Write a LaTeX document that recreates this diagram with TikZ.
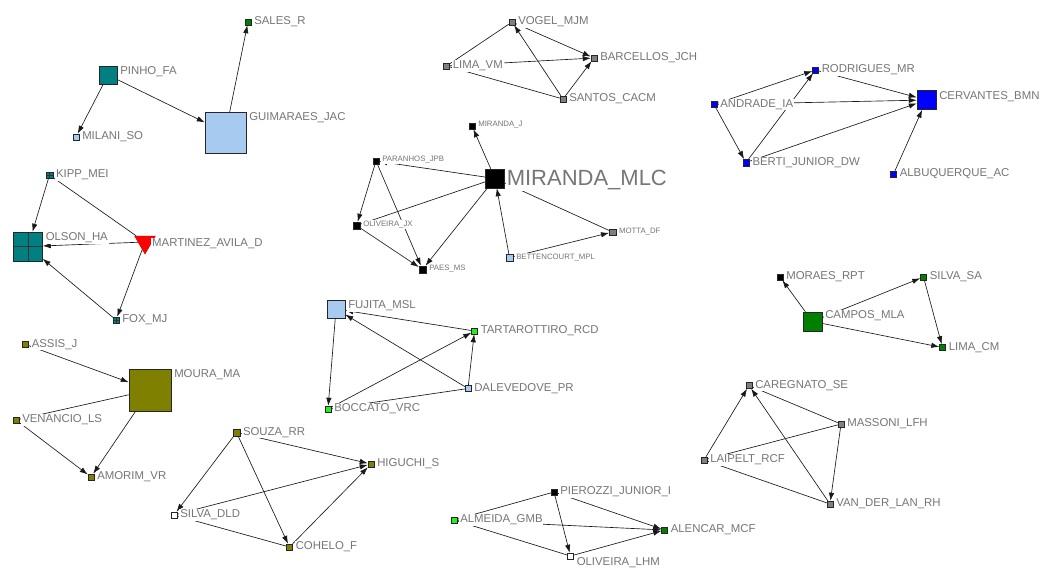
\documentclass[tikz,border=0pt]{standalone}
\usepackage{fontspec}
\setmainfont{Liberation Sans}
\usetikzlibrary{arrows.meta,shapes.geometric}
\definecolor{teal}{HTML}{008080}
\definecolor{lightblue}{HTML}{A6CAF0}
\definecolor{dkgreen}{HTML}{008000}
\definecolor{lime}{HTML}{22EE22}
\definecolor{olive}{HTML}{808000}
\definecolor{midgrey}{HTML}{808080}
\definecolor{pureblue}{HTML}{0000FF}
\definecolor{labgrey}{HTML}{767676}
\newcommand\lbsize{\fontsize{11.4}{13}\selectfont}
\newcommand\smsize{\fontsize{7.8}{9}\selectfont}
\newcommand\bgsize{\fontsize{22}{24}\selectfont}
\tikzset{
  v/.style={rectangle, draw=black!85, line width=0.5pt, inner sep=0pt, minimum size=#1},
  grid/.style={path picture={
      \draw[black!80, line width=0.5pt]
        (path picture bounding box.north) -- (path picture bounding box.south)
        (path picture bounding box.west) -- (path picture bounding box.east);}},
  lab/.style={font=\lbsize, text=labgrey, fill=white, inner sep=0.8pt, anchor=west},
  labtop/.style={lab, anchor=north west},
  slab/.style={lab, font=\smsize},
  e/.style={draw=black!90, line width=0.65pt},
  a/.style={e, -{Latex[length=8pt,width=5.4pt]}},
}
\begin{document}
\begin{tikzpicture}[x=1pt, y=-1pt]
\useasboundingbox (0,0) rectangle (1040,568);
\fill[white] (0,0) rectangle (1040,568);

% ---- vertices ----
% Pinho / Guimaraes group
\node[v=18pt, fill=teal] (pinho) at (108,75) {};
\node[v=6pt, fill=lightblue] (milani) at (76,137) {};
\node[v=41pt, fill=lightblue] (guim) at (225.5,132.5) {};
\node[v=6pt, fill=dkgreen] (sales) at (248,22) {};
% Olson group
\node[v=6.5pt, fill=teal, grid] (kipp) at (49.5,175) {};
\node[v=29pt, fill=teal, grid] (olson) at (28,246.5) {};
\node[regular polygon, regular polygon sides=3, shape border rotate=180,
      minimum size=24pt, inner sep=0pt, fill=red, draw=red!80!black, line width=0.4pt] (mart) at (145,242) {};
\node[v=6pt, fill=teal, grid] (fox) at (116,320) {};
% Vogel group
\node[v=6pt, fill=midgrey] (vogel) at (512,22) {};
\node[v=6pt, fill=midgrey] (limavm) at (446.5,66) {};
\node[v=6pt, fill=midgrey] (barc) at (594,58) {};
\node[v=6pt, fill=midgrey] (santos) at (563,99) {};
% Miranda group
\node[v=6pt, fill=black] (mj) at (472,126) {};
\node[v=6pt, fill=black] (paranhos) at (376,161) {};
\node[v=19pt, fill=black] (mlc) at (495,178.5) {};
\node[v=7pt, fill=black] (olivjx) at (356.5,225.5) {};
\node[v=7pt, fill=black] (paes) at (422.5,269.5) {};
\node[v=7pt, fill=lightblue] (bett) at (509.5,257.5) {};
\node[v=6.5pt, fill=midgrey] (motta) at (612.5,232) {};
% Cervantes group
\node[v=6pt, fill=pureblue] (rodr) at (815.5,70) {};
\node[v=6pt, fill=pureblue] (andr) at (714,104.5) {};
\node[v=19pt, fill=pureblue] (cerv) at (926.5,100) {};
\node[v=6.5pt, fill=pureblue] (berti) at (746,162.5) {};
\node[v=6pt, fill=pureblue] (albu) at (893.5,174) {};
% Fujita group
\node[v=18pt, fill=lightblue] (fujita) at (336,309) {};
\node[v=6pt, fill=lime] (tart) at (474.5,331) {};
\node[v=6pt, fill=lightblue] (dalev) at (468,388.5) {};
\node[v=6pt, fill=lime] (bocc) at (328,409) {};
% Campos group
\node[v=6pt, fill=black] (moraes) at (780,277) {};
\node[v=6pt, fill=dkgreen] (silvasa) at (923.5,277) {};
\node[v=19pt, fill=dkgreen] (campos) at (812.5,321.5) {};
\node[v=6pt, fill=dkgreen] (limacm) at (942.5,347.5) {};
% Moura group
\node[v=6pt, fill=olive] (assis) at (25.5,344.5) {};
\node[v=42pt, fill=olive] (moura) at (150,390) {};
\node[v=6pt, fill=olive] (venan) at (16,420) {};
\node[v=6pt, fill=olive] (amorim) at (91,477) {};
% Souza group
\node[v=6.5pt, fill=olive] (souza) at (236.5,432.5) {};
\node[v=6pt, fill=olive] (higuchi) at (371,464) {};
\node[v=6pt, fill=white] (silvadld) at (174,515) {};
\node[v=6pt, fill=olive] (cohelo) at (289.5,547) {};
% Pierozzi group
\node[v=6pt, fill=black] (pier) at (554,492) {};
\node[v=6pt, fill=lime] (almeida) at (454,520) {};
\node[v=6pt, fill=dkgreen] (alencar) at (664.5,530) {};
\node[v=6pt, fill=white] (olivlhm) at (570.5,556) {};
% Caregnato group
\node[v=6pt, fill=midgrey] (careg) at (749,385.5) {};
\node[v=6pt, fill=midgrey] (massoni) at (841,424) {};
\node[v=6pt, fill=midgrey] (laipelt) at (704,460) {};
\node[v=6pt, fill=midgrey] (vdl) at (830,504) {};

% ---- ties ----
\draw[a] (pinho) -- (guim);
\draw[a] (pinho) -- (milani);
\draw[a] (guim) -- (sales);

\draw[a] (kipp) -- (olson);
\draw[e] (kipp) -- (mart);
\draw[a] (mart) -- (olson);
\draw[a] (mart) -- (fox);
\draw[a] (fox) -- (olson);

\draw[e] (limavm) -- (vogel);
\draw[a] (vogel) -- (barc);
\draw[a] (limavm) -- (barc);
\draw[a] (santos) -- (vogel);
\draw[a] (santos) -- (barc);
\draw[e] (limavm) -- (santos);

\draw[a] (mlc) -- (mj);
\draw[a] (mlc) -- (paranhos);
\draw[e] (mlc) -- (olivjx);
\draw[a] (mlc) -- (paes);
\draw[a] (bett) -- (mlc);
\draw[e] (mlc) -- (motta);
\draw[a] (bett) -- (motta);
\draw[a] (paranhos) -- (olivjx);
\draw[a] (paranhos) -- (paes);
\draw[a] (olivjx) -- (paes);

\draw[a] (andr) -- (rodr);
\draw[a] (rodr) -- (cerv);
\draw[a] (andr) -- (cerv);
\draw[a] (andr) -- (berti);
\draw[a] (berti) -- (rodr);
\draw[a] (berti) -- (cerv);
\draw[a] (albu) -- (cerv);

\draw[a] (tart) -- (fujita);
\draw[a] (dalev) -- (fujita);
\draw[a] (fujita) -- (bocc);
\draw[a] (bocc) -- (tart);
\draw[a] (dalev) -- (tart);
\draw[e] (dalev) -- (bocc);

\draw[a] (campos) -- (moraes);
\draw[a] (campos) -- (silvasa);
\draw[a] (campos) -- (limacm);
\draw[a] (silvasa) -- (limacm);

\draw[a] (assis) -- (moura);
\draw[e] (moura) -- (venan);
\draw[a] (venan) -- (amorim);
\draw[a] (moura) -- (amorim);

\draw[a] (souza) -- (higuchi);
\draw[a] (souza) -- (silvadld);
\draw[a] (souza) -- (cohelo);
\draw[a] (silvadld) -- (higuchi);
\draw[e] (silvadld) -- (cohelo);
\draw[a] (cohelo) -- (higuchi);

\draw[e] (almeida) -- (pier);
\draw[a] (pier) -- (olivlhm);
\draw[a] (pier) -- (alencar);
\draw[a] (almeida) -- (alencar);
\draw[e] (almeida) -- (olivlhm);
\draw[a] (olivlhm) -- (alencar);

\draw[a] (laipelt) -- (careg);
\draw[a] (vdl) -- (careg);
\draw[e] (careg) -- (massoni);
\draw[a] (massoni) -- (vdl);
\draw[e] (laipelt) -- (massoni);
\draw[e] (laipelt) -- (vdl);

% ---- labels ----
\node[labtop] (pinho-l) at ([xshift=2pt]pinho.north east) {PINHO\_FA};
\node[lab] (milani-l) at ([xshift=2pt]milani.east) {MILANI\_SO};
\node[labtop] (guim-l) at ([xshift=2pt]guim.north east) {GUIMARAES\_JAC};
\node[lab] (sales-l) at ([xshift=2pt]sales.east) {SALES\_R};
\node[lab] (kipp-l) at ([xshift=2pt]kipp.east) {KIPP\_MEI};
\node[labtop] (olson-l) at ([xshift=2pt]olson.north east) {OLSON\_HA};
\node[lab] (mart-l) at ([xshift=-1pt,yshift=-2pt]mart.east) {MARTINEZ\_AVILA\_D};
\node[lab] (fox-l) at ([xshift=2pt]fox.east) {FOX\_MJ};

\node[lab] (vogel-l) at ([xshift=2pt]vogel.east) {VOGEL\_MJM};
\node[lab] (limavm-l) at ([xshift=2pt]limavm.east) {LIMA\_VM};
\node[lab] (barc-l) at ([xshift=2pt]barc.east) {BARCELLOS\_JCH};
\node[lab] (santos-l) at ([xshift=2pt]santos.east) {SANTOS\_CACM};

\node[slab] (mj-l) at ([xshift=2pt,yshift=1pt]mj.east) {MIRANDA\_J};
\node[slab] (paranhos-l) at ([xshift=2pt,yshift=1pt]paranhos.east) {PARANHOS\_JPB};
\node[lab, font=\bgsize, anchor=west] (mlc-l) at ([xshift=1pt,yshift=-2pt]mlc.east) {MIRANDA\_MLC};
\node[slab] (olivjx-l) at ([xshift=2pt,yshift=1pt]olivjx.east) {OLIVEIRA\_JX};
\node[slab] (paes-l) at ([xshift=2pt,yshift=1pt]paes.east) {PAES\_MS};
\node[slab] (bett-l) at ([xshift=2pt]bett.east) {BETTENCOURT\_MPL};
\node[slab] (motta-l) at ([xshift=2pt]motta.east) {MOTTA\_DF};

\node[lab] (rodr-l) at ([xshift=2pt]rodr.east) {RODRIGUES\_MR};
\node[lab] (andr-l) at ([xshift=2pt]andr.east) {ANDRADE\_IA};
\node[labtop] (cerv-l) at ([xshift=2pt]cerv.north east) {CERVANTES\_BMN};
\node[lab] (berti-l) at ([xshift=2pt]berti.east) {BERTI\_JUNIOR\_DW};
\node[lab] (albu-l) at ([xshift=2pt]albu.east) {ALBUQUERQUE\_AC};

\node[labtop] (fujita-l) at ([xshift=2pt]fujita.north east) {FUJITA\_MSL};
\node[lab] (tart-l) at ([xshift=2pt]tart.east) {TARTAROTTIRO\_RCD};
\node[lab] (dalev-l) at ([xshift=2pt]dalev.east) {DALEVEDOVE\_PR};
\node[lab] (bocc-l) at ([xshift=2pt]bocc.east) {BOCCATO\_VRC};

\node[lab] (moraes-l) at ([xshift=2pt]moraes.east) {MORAES\_RPT};
\node[lab] (silvasa-l) at ([xshift=2pt]silvasa.east) {SILVA\_SA};
\node[labtop] (campos-l) at ([xshift=2pt,yshift=2pt]campos.north east) {CAMPOS\_MLA};
\node[lab] (limacm-l) at ([xshift=2pt]limacm.east) {LIMA\_CM};

\node[lab] (assis-l) at ([xshift=2pt]assis.east) {ASSIS\_J};
\node[labtop] (moura-l) at ([xshift=2pt]moura.north east) {MOURA\_MA};
\node[lab] (venan-l) at ([xshift=2pt]venan.east) {VENANCIO\_LS};
\node[lab] (amorim-l) at ([xshift=2pt]amorim.east) {AMORIM\_VR};

\node[lab] (souza-l) at ([xshift=2pt]souza.east) {SOUZA\_RR};
\node[lab] (higuchi-l) at ([xshift=2pt]higuchi.east) {HIGUCHI\_S};
\node[lab] (silvadld-l) at ([xshift=2pt]silvadld.east) {SILVA\_DLD};
\node[lab] (cohelo-l) at ([xshift=2pt]cohelo.east) {COHELO\_F};

\node[lab] (pier-l) at ([xshift=2pt]pier.east) {PIEROZZI\_JUNIOR\_I};
\node[lab] (almeida-l) at ([xshift=2pt]almeida.east) {ALMEIDA\_GMB};
\node[lab] (alencar-l) at ([xshift=2pt]alencar.east) {ALENCAR\_MCF};
\node[lab] (olivlhm-l) at ([xshift=2pt,yshift=-7pt]olivlhm.east) {OLIVEIRA\_LHM};

\node[lab] (careg-l) at ([xshift=2pt]careg.east) {CAREGNATO\_SE};
\node[lab] (massoni-l) at ([xshift=2pt]massoni.east) {MASSONI\_LFH};
\node[lab] (laipelt-l) at ([xshift=2pt]laipelt.east) {LAIPELT\_RCF};
\node[lab] (vdl-l) at ([xshift=2pt]vdl.east) {VAN\_DER\_LAN\_RH};
\end{tikzpicture}
\end{document}
